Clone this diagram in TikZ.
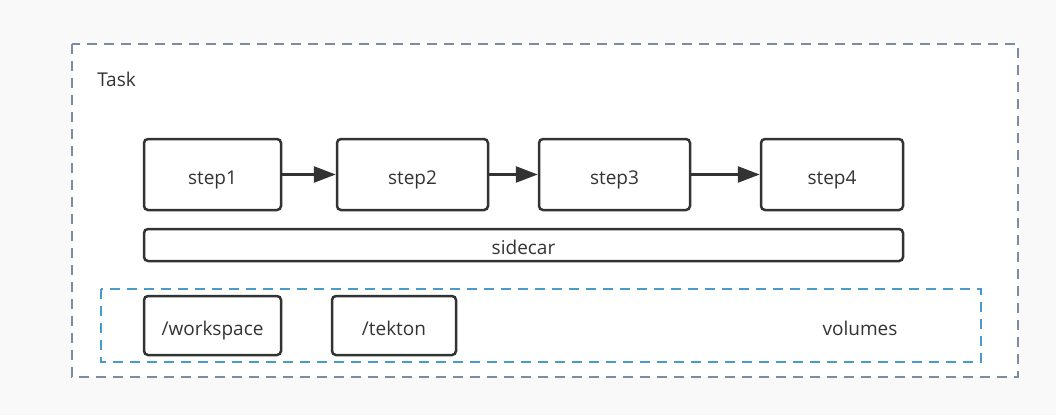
\documentclass[tikz,border=0pt]{standalone}
\usepackage{fontspec}
\setsansfont{Open Sans}
\usetikzlibrary{arrows.meta}

\tikzset{every picture/.style={line width=2.5pt}}
\tikzset{
  box/.style={draw={rgb,255:red,51;green,51;blue,51}, rounded corners=4pt, fill=white,
    inner sep=0pt, text height=19pt, text depth=0pt, font=\sffamily\fontsize{19}{22}\selectfont, text={rgb,255:red,51;green,51;blue,51}},
  lbl/.style={inner sep=0pt, text height=19pt, text depth=0pt, font=\sffamily\fontsize{19}{22}\selectfont, text={rgb,255:red,51;green,51;blue,51}},
  flow/.style={draw={rgb,255:red,51;green,51;blue,51}, fill={rgb,255:red,51;green,51;blue,51}, -{Triangle[length=22pt,width=16pt]}}
}

\begin{document}
\begin{tikzpicture}[x=1pt,y=1pt,yscale=-1,xscale=1]
\useasboundingbox (0,0) rectangle (1056,415);
\fill [color={rgb, 255:red, 249; green, 249; blue, 249 }] (0,0) rectangle (1056,415);

%Task frame
\draw [fill=white, draw={rgb, 255:red, 127; green, 140; blue, 160 }, line width=2pt, dash pattern=on 10pt off 7pt] (72,44) rectangle (1018,377);
% Text Node
\node [lbl, anchor=west] (task) at (96,76.5) {Task};

%Volumes frame
\draw [draw={rgb, 255:red, 74; green, 155; blue, 201 }, line width=2pt, dash pattern=on 10pt off 7pt] (101,289) rectangle (981,362);
% Text Node
\node [lbl] (volumes) at (860,325.5) {volumes};

%Steps
\node [box, minimum width=137pt, minimum height=71pt] (step1) at (212.5,174.5) {step1};
\node [box, minimum width=151pt, minimum height=71pt] (step2) at (412.5,174.5) {step2};
\node [box, minimum width=151pt, minimum height=71pt] (step3) at (614.5,174.5) {step3};
\node [box, minimum width=142pt, minimum height=71pt] (step4) at (832,174.5) {step4};

%Sidecar
\node [box, minimum width=759pt, minimum height=32pt] (sidecar) at (523.5,245) {sidecar};

%Volume mounts
\node [box, minimum width=137pt, minimum height=59pt] (workspace) at (212.5,325.5) {/workspace};
\node [box, minimum width=124pt, minimum height=59pt] (tekton) at (394,325.5) {/tekton};

%Straight Lines
\draw [flow] (step1) -- (step2);
\draw [flow] (step2) -- (step3);
\draw [flow] (step3) -- (step4);

\end{tikzpicture}
\end{document}
